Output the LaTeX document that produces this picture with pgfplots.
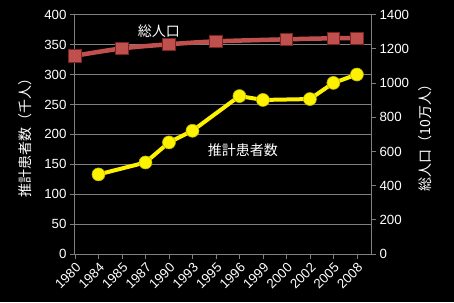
\documentclass[border=0pt]{standalone}
\usepackage{pgfplots}
\pgfplotsset{compat=1.18}
\usepackage{fontspec}
\setmainfont{Liberation Sans}
\newfontfamily\cjk{Noto Sans CJK JP}
\definecolor{gridgray}{HTML}{808080}
\definecolor{popred}{HTML}{C0504D}
\definecolor{popdark}{HTML}{7A2422}
\definecolor{ydark}{HTML}{B8B800}
\begin{document}
\begin{tikzpicture}
\path[use as bounding box, fill=black] (-75pt,-48pt) rectangle (379pt,254pt);
\begin{axis}[
  scale only axis, width=296pt, height=239.3pt,
  xmin=0, xmax=12.6, ymin=0, ymax=400,
  xtick={0,...,12},
  xticklabels={1980,1984,1985,1987,1990,1993,1995,1996,1999,2000,2002,2005,2008},
  ytick={0,50,...,400},
  xtick pos=lower, ytick pos=left,
  tick align=outside, major tick length=5pt,
  axis line style={draw=gridgray, line width=1pt},
  tick style={draw=gridgray, line width=0.8pt},
  ymajorgrids, grid style={draw=gridgray, line width=1pt},
  /pgf/number format/assume math mode=true,
  /pgf/number format/1000 sep={},
  tick label style={text=white, font=\fontsize{13.3}{15}\selectfont},
  xticklabel style={rotate=45, anchor=north east, inner sep=2pt},
  ylabel={推計患者数（千人）},
  ylabel style={at={(axis description cs:-0.169,0.5)}, anchor=center, text=white, font=\cjk\fontsize{14}{16}\selectfont},
]
\addplot[yellow, line width=4pt, mark=*, mark size=6.5pt,
  mark options={fill=yellow, draw=ydark, line width=0.6pt}]
  coordinates {(1,133) (3,153) (4,186.5) (5,206) (7,264) (8,257.5) (10,259) (11,286) (12,300)};
\node[text=white, font=\cjk\fontsize{14}{16}\selectfont] at (axis cs:3.57,372.8) {総人口};
\node[text=white, font=\cjk\fontsize{14}{16}\selectfont] at (axis cs:7.15,173.8) {推計患者数};
\end{axis}
\begin{axis}[
  scale only axis, width=296pt, height=239.3pt,
  xmin=0, xmax=12.6, ymin=0, ymax=1400,
  ytick={0,200,...,1400},
  hide x axis, ytick pos=right,
  axis line style={draw=none},
  tick align=outside, major tick length=5pt,
  tick style={draw=gridgray, line width=0.8pt},
  /pgf/number format/assume math mode=true,
  /pgf/number format/1000 sep={},
  tick label style={text=white, font=\fontsize{13.3}{15}\selectfont},
  ylabel={総人口（10万人）},
  ylabel style={at={(axis description cs:1.182,0.5)}, anchor=center, rotate=0, text=white, font=\cjk\fontsize{14}{16}\selectfont},
]
\addplot[popred, line width=4.5pt, smooth, mark=square*, mark size=6.3pt,
  mark options={fill=popred, draw=popdark, line width=0.6pt}]
  coordinates {(0,1160) (2,1203) (4,1227) (6,1244) (9,1256) (11,1262) (12,1262)};
\end{axis}
\end{tikzpicture}
\end{document}
